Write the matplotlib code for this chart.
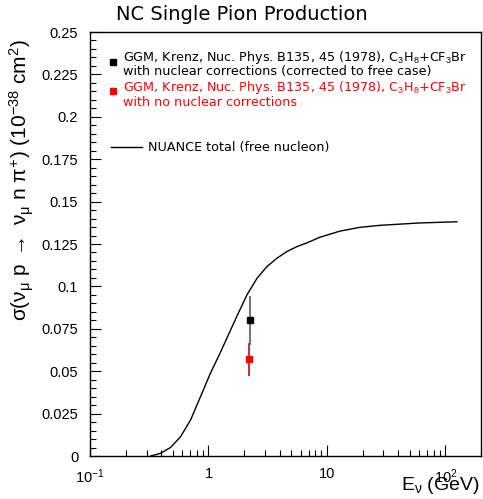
import matplotlib
matplotlib.use("Agg")
import matplotlib.pyplot as plt
from matplotlib.ticker import FixedLocator, MultipleLocator, LogLocator, NullFormatter

plt.rcParams['font.family'] = ['Liberation Sans', 'DejaVu Sans']
plt.rcParams['mathtext.fontset'] = 'custom'
plt.rcParams['mathtext.rm'] = 'Liberation Sans'
plt.rcParams['mathtext.it'] = 'Liberation Sans'

# NUANCE total (free nucleon) curve
nuance_E = [0.326, 0.395, 0.480, 0.582, 0.706, 0.857, 1.039, 1.26, 1.74, 2.11, 2.57, 3.11,
            3.78, 4.58, 5.56, 6.97, 8.73, 12.9, 18.9, 27.9, 60.5, 125.0]
nuance_xs = [0.0, 0.0016, 0.0051, 0.0114, 0.0212, 0.0350, 0.0488, 0.0610, 0.0825, 0.0949,
             0.1048, 0.1116, 0.1166, 0.1205, 0.1234, 0.1260, 0.1290, 0.1326, 0.1348, 0.1360,
             0.1374, 0.1381]

# GGM data
ggm_corr_E = [2.25]
ggm_corr_xs = [0.080]
ggm_corr_err = [0.0145]

ggm_nocorr_E = [2.2]
ggm_nocorr_xs = [0.057]
ggm_nocorr_err = [0.0098]

fig = plt.figure(figsize=(4.83, 4.99), dpi=100)
ax = fig.add_axes([90/483, 43/499, 391/483, 424/499])

ax.plot(nuance_E, nuance_xs, color='black', lw=1.0)
ax.errorbar(ggm_corr_E, ggm_corr_xs, yerr=ggm_corr_err, fmt='s', color='black',
            ecolor='#777777', elinewidth=1.5, markersize=5, capsize=0)
ax.errorbar(ggm_nocorr_E, ggm_nocorr_xs, yerr=ggm_nocorr_err, fmt='s', color='red',
            ecolor='#cc3333', elinewidth=1.5, markersize=5, capsize=0)

ax.set_xscale('log')
ax.set_xlim(0.1, 200)
ax.set_ylim(0, 0.25)

ax.xaxis.set_major_locator(FixedLocator([0.1, 1, 10, 100]))
ax.set_xticklabels([r'$10^{-1}$', '1', '10', r'$10^{2}$'])
ax.xaxis.set_minor_locator(LogLocator(base=10, subs=range(2, 10)))
ax.xaxis.set_minor_formatter(NullFormatter())

yt = [0, 0.025, 0.05, 0.075, 0.1, 0.125, 0.15, 0.175, 0.2, 0.225, 0.25]
ax.yaxis.set_major_locator(FixedLocator(yt))
ax.set_yticklabels(['0', '0.025', '0.05', '0.075', '0.1', '0.125', '0.15', '0.175', '0.2', '0.225', '0.25'])
ax.yaxis.set_minor_locator(MultipleLocator(0.005))

ax.tick_params(which='both', direction='in', top=False, right=False, labelsize=10.5)
ax.tick_params(which='major', length=8, width=0.8)
ax.tick_params(which='minor', length=4, width=0.8)
ax.tick_params(axis='x', pad=8)
ax.tick_params(axis='y', pad=8.5)
for s in ax.spines.values():
    s.set_linewidth(1.0)

fig.text(0.5, 1 - 15/499, 'NC Single Pion Production', ha='center', va='center', fontsize=14,
         family='DejaVu Sans')
fig.text(22/483, 1 - 180/499,
         r'$\sigma(\nu_\mu\ \mathrm{p}\ \rightarrow\ \nu_\mu\ \mathrm{n}\ \pi^{+})\ (10^{-38}\ \mathrm{cm}^{2})$',
         rotation=90, ha='center', va='center', fontsize=15)
fig.text(480/483, 1 - 485/499, r'$\mathrm{E}_\nu$ (GeV)', ha='right', va='center', fontsize=14)

# legend
fs = 9.2
lf = 'DejaVu Sans'
ax.plot([0.1 * 10**((113-90)/119)], [(456-62)/1696], 's', color='black', markersize=4, clip_on=False)
fig.text(123/483, 1 - 58/499, r'GGM, Krenz, Nuc. Phys. B135, 45 (1978), C$_3$H$_8$+CF$_3$Br',
         ha='left', va='center', fontsize=fs, color='black', family=lf)
fig.text(123/483, 1 - 72/499, 'with nuclear corrections (corrected to free case)',
         ha='left', va='center', fontsize=fs, color='black', family=lf)
ax.plot([0.1 * 10**((113-90)/119)], [(456-91)/1696], 's', color='red', markersize=4, clip_on=False)
fig.text(123/483, 1 - 88/499, r'GGM, Krenz, Nuc. Phys. B135, 45 (1978), C$_3$H$_8$+CF$_3$Br',
         ha='left', va='center', fontsize=fs, color='red', family=lf)
fig.text(123/483, 1 - 102/499, 'with no nuclear corrections',
         ha='left', va='center', fontsize=fs, color='red', family=lf)
ax.plot([0.1 * 10**((111-90)/119), 0.1 * 10**((142-90)/119)], [(456-147)/1696] * 2,
        color='black', lw=1.0)
fig.text(148/483, 1 - 147/499, 'NUANCE total (free nucleon)', ha='left', va='center', fontsize=fs,
         family=lf)

fig.savefig('out.png', dpi=100)
